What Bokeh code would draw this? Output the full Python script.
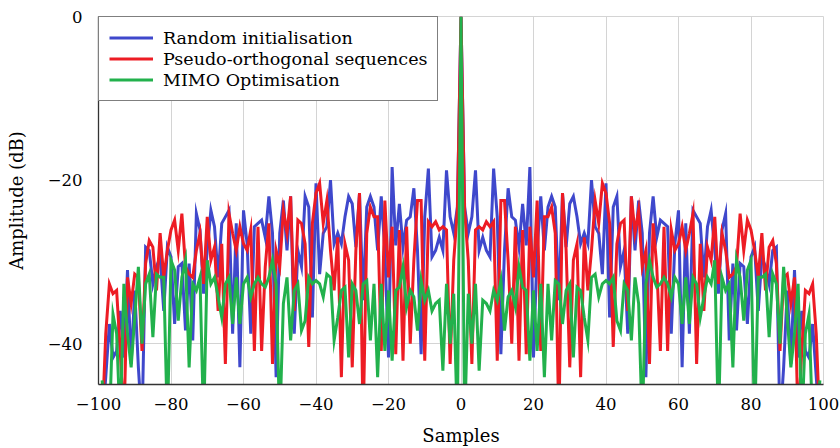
from bokeh.plotting import figure
from bokeh.models import FixedTicker, Legend, LegendItem
from bokeh.embed import file_html
from bokeh.resources import INLINE

# Sidelobe levels (dB) for lags 1..99; the autocorrelation magnitude is symmetric in lag.
random_init_pos = [
    -23.3, -26.5, -24.5, -18.8, -28.6, -27.0, -28.6, -29.4, -18.6, -24.5,
    -41.3, -28.6, -21.0, -24.5, -24.9, -28.2, -22.9, -28.0, -18.4, -41.7,
    -28.6, -22.0, -28.6, -23.3, -22.0, -23.3, -34.7, -21.6, -28.2, -22.9,
    -22.0, -24.5, -27.8, -26.5, -27.8, -20.0, -25.7, -26.5, -31.5, -20.4,
    -36.8, -23.3, -22.0, -30.6, -28.6, -38.8, -22.0, -28.6, -22.5, -26.5,
    -44.1, -26.5, -22.0, -27.0, -24.9, -25.3, -25.7, -38.8, -27.8, -23.7,
    -42.9, -25.3, -38.8, -23.7, -24.5, -25.3, -31.9, -25.7, -23.7, -28.6,
    -33.9, -26.1, -24.1, -39.6, -30.2, -38.4, -30.2, -30.6, -37.6, -29.4,
    -28.2, -36.0, -29.4, -30.6, -32.7, -28.6, -28.2, -50.0, -42.9, -33.5,
    -42.5, -31.0, -41.7, -36.0, -40.9, -41.7, -37.6, -44.1, -50.0,
]
pseudo_orth_pos = [
    -23.7, -29.8, -42.5, -26.1, -25.7, -26.1, -25.1, -25.7, -25.1, -42.1,
    -22.5, -22.5, -29.8, -40.0, -25.7, -42.1, -26.1, -41.3, -25.7, -31.9,
    -22.5, -40.9, -24.5, -24.5, -23.3, -26.5, -50.0, -21.6, -28.6, -42.9,
    -29.8, -27.8, -44.1, -27.0, -33.5, -28.6, -22.5, -25.3, -20.4, -21.6,
    -25.3, -40.4, -27.8, -25.3, -24.9, -36.0, -22.0, -26.5, -23.7, -30.6,
    -28.6, -42.5, -25.3, -30.6, -40.9, -25.7, -40.9, -26.1, -28.6, -27.8,
    -25.7, -28.6, -26.5, -24.1, -42.5, -27.8, -36.0, -28.2, -29.8, -24.5,
    -32.7, -26.5, -28.6, -31.9, -31.5, -30.6, -24.1, -28.6, -24.9, -26.1,
    -28.6, -31.9, -26.5, -33.5, -28.2, -27.4, -30.2, -40.9, -31.9, -31.5,
    -35.1, -31.9, -50.0, -40.9, -33.5, -33.9, -32.7, -38.8, -50.0,
]
mimo_opt_pos = [
    -50.0, -33.9, -40.0, -32.7, -43.3, -34.7, -35.1, -36.0, -33.5, -34.7,
    -32.3, -38.4, -34.3, -33.5, -35.5, -30.6, -33.1, -33.5, -42.1, -33.5,
    -40.9, -32.7, -44.1, -32.7, -39.6, -32.3, -32.7, -37.6, -33.5, -32.7,
    -41.7, -33.1, -33.5, -36.8, -39.6, -31.9, -31.5, -34.3, -32.7, -32.3,
    -32.7, -31.9, -37.2, -38.4, -32.7, -33.5, -39.6, -31.9, -35.1, -50.0,
    -32.7, -29.8, -31.9, -33.1, -32.7, -31.9, -32.7, -34.3, -31.9, -32.7,
    -37.6, -31.9, -37.6, -31.9, -32.7, -36.8, -34.3, -31.9, -32.7, -29.8,
    -50.0, -31.9, -33.5, -32.7, -42.9, -29.8, -31.9, -37.2, -31.0, -29.8,
    -50.0, -31.9, -31.9, -31.5, -39.2, -31.5, -32.7, -40.0, -30.6, -36.8,
    -42.9, -38.8, -32.7, -50.0, -38.8, -36.4, -50.0, -50.0, -44.5,
]
peak_db = 0.0
lags_pos = list(range(1, 100))

series_names = ["Random initialisation", "Pseudo-orthogonal sequences", "MIMO Optimisation"]
series_pos = [random_init_pos, pseudo_orth_pos, mimo_opt_pos]
series_colors = ["#3F48CC", "#ED1C24", "#22B14C"]

x_ticks = [-100, -80, -60, -40, -20, 0, 20, 40, 60, 80, 100]
y_ticks = [-40, -20, 0]

lags = [-k for k in lags_pos[::-1]] + [0] + lags_pos

def label(v):
    return ("\u2212" + str(abs(v))) if v < 0 else str(v)

FONT = "DejaVu Serif"

p = figure(width=840, height=448, x_range=(-100, 100), y_range=(-45, 0),
           output_backend="svg", toolbar_location=None,
           min_border_left=98, min_border_right=17, min_border_top=16, min_border_bottom=64)
p.background_fill_color = "white"
p.border_fill_color = "white"
p.outline_line_color = "#d4d4d4"
p.outline_line_width = 1

renderers = []
for name, pos, col in zip(series_names, series_pos, series_colors):
    vals = pos[::-1] + [peak_db] + pos
    r = p.line(lags, vals, line_color=col, line_width=3, line_join="miter")
    renderers.append((name, r))

p.xaxis.ticker = FixedTicker(ticks=x_ticks)
p.yaxis.ticker = FixedTicker(ticks=y_ticks)
p.xaxis.major_label_overrides = {t: label(t) for t in x_ticks}
p.yaxis.major_label_overrides = {t: label(t) for t in y_ticks}
for ax in (p.xaxis[0], p.yaxis[0]):
    ax.major_tick_line_color = None
    ax.minor_tick_line_color = None
    ax.axis_line_color = "#333333"
    ax.axis_line_width = 1.3
    ax.major_label_text_font = FONT
    ax.major_label_text_font_size = "16.5px"
    ax.major_label_text_color = "black"
    ax.axis_label_text_font = FONT
    ax.axis_label_text_font_size = "18px"
    ax.axis_label_text_font_style = "normal"
    ax.axis_label_text_color = "black"
p.xaxis.axis_label = "Samples"
p.yaxis.axis_label = "Amplitude (dB)"
p.xaxis.major_label_standoff = 7
p.yaxis.major_label_standoff = 10
p.xaxis.axis_label_standoff = 12
p.yaxis.axis_label_standoff = 18

p.xgrid.grid_line_color = "#d4d4d4"
p.ygrid.grid_line_color = "#d4d4d4"
p.xgrid.grid_line_width = 1
p.ygrid.grid_line_width = 1

legend = Legend(items=[LegendItem(label=n, renderers=[r]) for n, r in renderers],
                location="top_left")
legend.margin = 0
legend.padding = 10
legend.spacing = 0
legend.label_height = 21
legend.glyph_height = 21
legend.glyph_width = 44
legend.label_standoff = 10
legend.label_text_font = FONT
legend.label_text_font_size = "17.5px"
legend.label_text_color = "black"
legend.border_line_color = "black"
legend.border_line_width = 1
legend.background_fill_alpha = 1
p.add_layout(legend)

open("out.html", "w").write(file_html(p, INLINE))
